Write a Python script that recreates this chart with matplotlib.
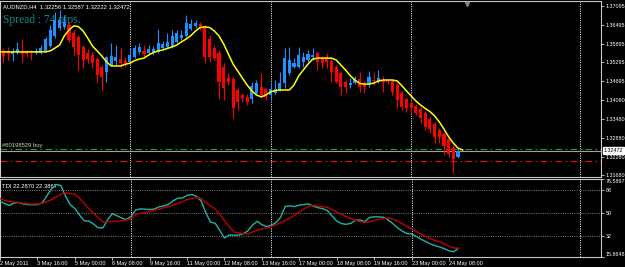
import matplotlib
matplotlib.use("Agg")
import matplotlib.pyplot as plt
import matplotlib.transforms as mtransforms
import numpy as np

# AUDNZD H4 candles, 2 May 2011 08:00 .. 24 May 2011 16:00
bar_open = [1.3566, 1.3563, 1.3563, 1.3556, 1.3559, 1.3566, 1.3563, 1.3563, 1.3559, 1.3559,
            1.3566, 1.3582, 1.3614, 1.3639, 1.3643, 1.3649, 1.3623, 1.3611, 1.3579, 1.3559,
            1.3553, 1.3540, 1.3515, 1.3499, 1.3521, 1.3534, 1.3540, 1.3534, 1.3531, 1.3547,
            1.3563, 1.3566, 1.3559, 1.3559, 1.3563, 1.3575, 1.3579, 1.3582, 1.3595, 1.3607,
            1.3614, 1.3636, 1.3646, 1.3652, 1.3643, 1.3604, 1.3575, 1.3559, 1.3515, 1.3479,
            1.3476, 1.3441, 1.3425, 1.3419, 1.3412, 1.3431, 1.3451, 1.3444, 1.3425, 1.3431,
            1.3441, 1.3463, 1.3495, 1.3515, 1.3515, 1.3531, 1.3537, 1.3547, 1.3559, 1.3543,
            1.3547, 1.3534, 1.3515, 1.3495, 1.3467, 1.3457, 1.3463, 1.3476, 1.3463, 1.3463,
            1.3473, 1.3467, 1.3473, 1.3470, 1.3470, 1.3457, 1.3431, 1.3412, 1.3399, 1.3390,
            1.3380, 1.3367, 1.3348, 1.3332, 1.3313, 1.3300, 1.3284, 1.3259, 1.32256]
bar_high = [1.3572, 1.3575, 1.3579, 1.3575, 1.3595, 1.3604, 1.3569, 1.3569, 1.3575, 1.3585,
            1.3611, 1.3649, 1.3691, 1.3697, 1.3681, 1.3659, 1.3633, 1.3617, 1.3585, 1.3572,
            1.3563, 1.3547, 1.3521, 1.3550, 1.3591, 1.3585, 1.3575, 1.3547, 1.3575, 1.3585,
            1.3591, 1.3585, 1.3585, 1.3582, 1.3636, 1.3598, 1.3623, 1.3633, 1.3633, 1.3633,
            1.3681, 1.3668, 1.3665, 1.3659, 1.3649, 1.3617, 1.3585, 1.3569, 1.3527, 1.3495,
            1.3483, 1.3447, 1.3431, 1.3428, 1.3467, 1.3473, 1.3495, 1.3447, 1.3467, 1.3473,
            1.3499, 1.3575, 1.3579, 1.3543, 1.3579, 1.3563, 1.3569, 1.3575, 1.3563, 1.3550,
            1.3559, 1.3540, 1.3521, 1.3502, 1.3473, 1.3479, 1.3486, 1.3499, 1.3470, 1.3502,
            1.3499, 1.3505, 1.3486, 1.3476, 1.3473, 1.3463, 1.3438, 1.3419, 1.3406, 1.3396,
            1.3387, 1.3374, 1.3355, 1.3339, 1.3319, 1.3307, 1.3291, 1.3265, 1.32587]
bar_low = [1.3553, 1.3531, 1.3537, 1.3534, 1.3556, 1.3531, 1.3547, 1.3537, 1.3556, 1.3556,
           1.3563, 1.3579, 1.3607, 1.3633, 1.3636, 1.3595, 1.3553, 1.3505, 1.3511, 1.3527,
           1.3511, 1.3467, 1.3441, 1.3467, 1.3518, 1.3521, 1.3511, 1.3515, 1.3521, 1.3543,
           1.3556, 1.3547, 1.3553, 1.3553, 1.3559, 1.3569, 1.3575, 1.3575, 1.3591, 1.3601,
           1.3611, 1.3633, 1.3639, 1.3633, 1.3527, 1.3531, 1.3537, 1.3412, 1.3409, 1.3457,
           1.3351, 1.3377, 1.3403, 1.3393, 1.3399, 1.3425, 1.3415, 1.3409, 1.3409, 1.3428,
           1.3438, 1.3447, 1.3489, 1.3511, 1.3511, 1.3515, 1.3531, 1.3537, 1.3505, 1.3511,
           1.3511, 1.3467, 1.3463, 1.3425, 1.3431, 1.3447, 1.3460, 1.3435, 1.3431, 1.3451,
           1.3457, 1.3463, 1.3435, 1.3460, 1.3425, 1.3383, 1.3377, 1.3371, 1.3367, 1.3361,
           1.3335, 1.3313, 1.3303, 1.3271, 1.3271, 1.3233, 1.3227, 1.3175, 1.32222]
bar_close = [1.3559, 1.3550, 1.3556, 1.3563, 1.3572, 1.3556, 1.3556, 1.3559, 1.3566, 1.3575,
             1.3604, 1.3633, 1.3665, 1.3665, 1.3659, 1.3601, 1.3579, 1.3553, 1.3537, 1.3540,
             1.3527, 1.3489, 1.3483, 1.3547, 1.3550, 1.3547, 1.3527, 1.3524, 1.3553, 1.3575,
             1.3579, 1.3556, 1.3572, 1.3572, 1.3591, 1.3588, 1.3595, 1.3614, 1.3623, 1.3617,
             1.3655, 1.3652, 1.3655, 1.3639, 1.3547, 1.3547, 1.3543, 1.3467, 1.3447, 1.3467,
             1.3383, 1.3403, 1.3415, 1.3403, 1.3454, 1.3463, 1.3425, 1.3419, 1.3444, 1.3444,
             1.3463, 1.3543, 1.3537, 1.3527, 1.3553, 1.3547, 1.3556, 1.3553, 1.3531, 1.3527,
             1.3531, 1.3499, 1.3467, 1.3451, 1.3451, 1.3463, 1.3479, 1.3451, 1.3451, 1.3483,
             1.3470, 1.3479, 1.3467, 1.3467, 1.3435, 1.3409, 1.3387, 1.3383, 1.3383, 1.3367,
             1.3351, 1.3323, 1.3316, 1.3291, 1.3291, 1.3262, 1.3236, 1.3220, 1.32472]

# yellow moving average (runs one bar past the last candle)
ma_line = [1.3563, 1.3563, 1.3563, 1.3563, 1.3563, 1.3563, 1.3563, 1.3563, 1.3563, 1.3563,
           1.3563, 1.3566, 1.3575, 1.3585, 1.3614, 1.3633, 1.3646, 1.3644, 1.3630, 1.3607,
           1.3582, 1.3566, 1.3550, 1.3531, 1.3518, 1.3518, 1.3518, 1.3523, 1.3527, 1.3535,
           1.3540, 1.3543, 1.3553, 1.3561, 1.3566, 1.3569, 1.3574, 1.3579, 1.3585, 1.3595,
           1.3604, 1.3615, 1.3630, 1.3641, 1.3643, 1.3641, 1.3630, 1.3614, 1.3588, 1.3556,
           1.3524, 1.3502, 1.3479, 1.3457, 1.3438, 1.3425, 1.3419, 1.3425, 1.3435, 1.3439,
           1.3441, 1.3441, 1.3441, 1.3457, 1.3486, 1.3505, 1.3524, 1.3540, 1.3543, 1.3543,
           1.3543, 1.3543, 1.3537, 1.3521, 1.3505, 1.3487, 1.3473, 1.3462, 1.3460, 1.3460,
           1.3463, 1.3470, 1.3473, 1.3473, 1.3473, 1.3470, 1.3455, 1.3438, 1.3422, 1.3406,
           1.3393, 1.3382, 1.3372, 1.3358, 1.3339, 1.3316, 1.3291, 1.3271, 1.3255, 1.3249]

# TDI sub window
tdi_green = [59.1, 57.4, 55.9, 57.8, 58.2, 57.0, 56.5, 56.5, 56.5, 57.8,
             63.3, 68.8, 72.3, 71.5, 63.3, 56.6, 53.5, 48.4, 43.9, 43.6,
             41.4, 38.5, 38.3, 44.5, 49.6, 47.8, 46.1, 44.9, 47.2, 52.3,
             53.2, 53.0, 52.7, 53.1, 54.8, 55.5, 56.6, 59.5, 61.6, 61.7,
             63.8, 64.5, 63.1, 59.4, 50.3, 42.9, 42.0, 36.3, 30.4, 32.8,
             32.6, 32.7, 33.8, 36.1, 40.6, 43.5, 40.8, 39.3, 40.3, 42.5,
             46.7, 55.2, 55.5, 55.0, 56.2, 56.6, 57.0, 55.3, 54.1, 53.4,
             51.9, 47.6, 43.7, 41.7, 41.1, 41.9, 44.3, 44.5, 43.2, 46.5,
             47.0, 46.9, 46.7, 44.5, 41.7, 38.4, 35.8, 33.9, 33.6, 31.7,
             29.5, 27.7, 25.8, 24.4, 23.4, 22.1, 20.4, 19.7, 22.287]
tdi_red = [61.2, 59.9, 58.8, 58.6, 58.3, 57.6, 57.0, 57.0, 57.0, 57.6,
           58.8, 60.4, 62.7, 64.5, 65.6, 65.2, 64.6, 61.6, 57.4, 53.4,
           49.8, 46.2, 43.0, 43.2, 43.4, 43.6, 43.9, 44.4, 45.5, 48.7,
           49.8, 50.4, 51.2, 52.2, 53.0, 54.0, 54.9, 56.2, 57.4, 58.9,
           60.5, 61.4, 62.1, 61.4, 58.1, 55.6, 53.1, 48.9, 44.0, 39.3,
           35.2, 34.5, 33.8, 33.6, 35.1, 36.5, 37.6, 38.3, 39.3, 40.8,
           42.4, 44.2, 46.1, 48.3, 50.8, 53.1, 55.2, 56.0, 55.2, 54.9,
           54.4, 52.6, 50.8, 48.9, 47.2, 45.7, 44.3, 43.1, 42.6, 43.2,
           44.1, 45.0, 45.6, 46.2, 45.2, 43.6, 41.7, 39.5, 37.7, 35.5,
           33.4, 31.6, 29.9, 28.6, 27.5, 25.7, 23.9, 22.7, 22.3867]

time_labels = ["2 May 2011", "3 May 16:00", "5 May 00:00", "6 May 08:00", "9 May 16:00",
               "11 May 00:00", "12 May 08:00", "13 May 16:00", "17 May 00:00",
               "18 May 08:00", "19 May 16:00", "23 May 00:00", "24 May 08:00"]
price_ticks = [1.37095, 1.36495, 1.35895, 1.35295, 1.34695, 1.34080,
               1.33480, 1.32880, 1.32280, 1.31680]
tdi_levels = [68, 50, 32]
tdi_min, tdi_max = 15.8648, 76.5897
bid_price = 1.32472
order_price = 1.32530
stop_price = 1.32130
separator_bars = [28, 58, 88, 124]

BG = "black"
FG = "white"
FONT = "Liberation Sans"
W, H = 625, 267

fig = plt.figure(figsize=(W / 100, H / 100), dpi=100, facecolor=BG)
ax = fig.add_axes([0, (H - 177) / H, 601 / W, 176 / H], facecolor=BG)
ax2 = fig.add_axes([0, (H - 256.6) / H, 601 / W, 77.6 / H], facecolor=BG)

x = np.arange(len(bar_open))
o = np.array(bar_open)
c = np.array(bar_close)
up = c >= o
colors = np.where(up, "#1e90ff", "#ff0000")

# candles
ax.vlines(x, bar_low, bar_high, colors=colors, linewidth=0.8, zorder=3)
body = np.maximum(np.abs(c - o), 0.00006)
ax.bar(x, body, bottom=np.minimum(o, c), width=0.66, color=colors,
       linewidth=0, zorder=4)
ax.plot(np.arange(len(ma_line)), ma_line, color="#ffff00", linewidth=1.1, zorder=5)

# order / price lines
ax.axhline(order_price, color="#22a022", linewidth=0.8, dashes=(6, 3, 1.5, 3), zorder=2)
ax.axhline(bid_price, color="#a0a0a0", linewidth=0.8, zorder=2)
ax.axhline(stop_price, color="#e01010", linewidth=0.8, dashes=(6, 3, 1.5, 3), zorder=2)
ax.text(0.8, order_price + 0.0001, "#60198529 buy", color="#d0d0d0", fontsize=4.2,
        family=FONT, va="bottom", ha="left", zorder=6)

for a in (ax, ax2):
    for sb in separator_bars:
        a.axvline(sb, color="#e0e0e0", linewidth=0.7, linestyle=(0, (1.2, 1.2)), zorder=1)

x_lo, x_hi = 0.28, 128.5
ax.set_xlim(x_lo, x_hi)
ax.set_ylim(1.31626, 1.37258)
ax2.set_xlim(x_lo, x_hi)
ax2.set_ylim(tdi_min, tdi_max)

# chart shift marker
ax.plot([100], [0.985], marker="v", markersize=3, color="#808080",
        transform=mtransforms.blended_transform_factory(ax.transData, ax.transAxes),
        clip_on=False, zorder=6)

# headers
ax.text(0.005, 0.968, "AUDNZD,H4  1.32256 1.32587 1.32222 1.32472", transform=ax.transAxes,
        color=FG, fontsize=4.2, family=FONT, va="center", ha="left")
ax.text(0.005, 0.893, "Spread : 74 pips.", transform=ax.transAxes, color="#138c8c",
        fontsize=8.3, family="Liberation Serif", va="center", ha="left", zorder=2)
ax2.text(0.004, 0.9, "TDI 22.2870 22.3867", transform=ax2.transAxes, color=FG,
         fontsize=4.2, family=FONT, va="center", ha="left")

# TDI
ax2.plot(x, tdi_green, color="#20b2aa", linewidth=1.0, zorder=3)
ax2.plot(x, tdi_red, color="#c00000", linewidth=1.0, zorder=4)
for lv in tdi_levels:
    ax2.axhline(lv, color="#8a8a8a", linewidth=0.6, linestyle=(0, (1.2, 1.5)), zorder=1)

# axes styling
for a in (ax, ax2):
    for sp in a.spines.values():
        sp.set_color("#c8c8c8")
        sp.set_linewidth(0.8)
    a.yaxis.tick_right()
    a.tick_params(axis="y", colors=FG, labelsize=3.9, length=2, width=0.5, pad=1.5)

ax.set_xticks([])
ax.set_yticks(price_ticks)
ax.set_yticklabels([f"{p:.5f}" for p in price_ticks], family=FONT)

ax2.set_yticks([tdi_max] + tdi_levels + [tdi_min])
ax2.set_yticklabels([f"{tdi_max:.4f}", "68", "50", "32", f"{tdi_min:.4f}"], family=FONT)
ylabs = ax2.get_yticklabels()
ylabs[0].set_va("top")
ylabs[-1].set_va("bottom")

ax2.set_xticks(np.arange(len(time_labels)) * 8)
ax2.set_xticklabels(time_labels, ha="left", family=FONT)
ax2.tick_params(axis="x", colors=FG, labelsize=3.95, length=2, width=0.5, pad=1)

# current bid box on the price scale
trans = mtransforms.blended_transform_factory(ax.transAxes, ax.transData)
ax.text(1.004, bid_price, "1.32472", transform=trans, color="black", fontsize=3.9,
        family=FONT, va="center", ha="left",
        bbox=dict(boxstyle="square,pad=0.12", facecolor="white", edgecolor="white"))

fig.savefig("out.png", dpi=100, facecolor=BG)
